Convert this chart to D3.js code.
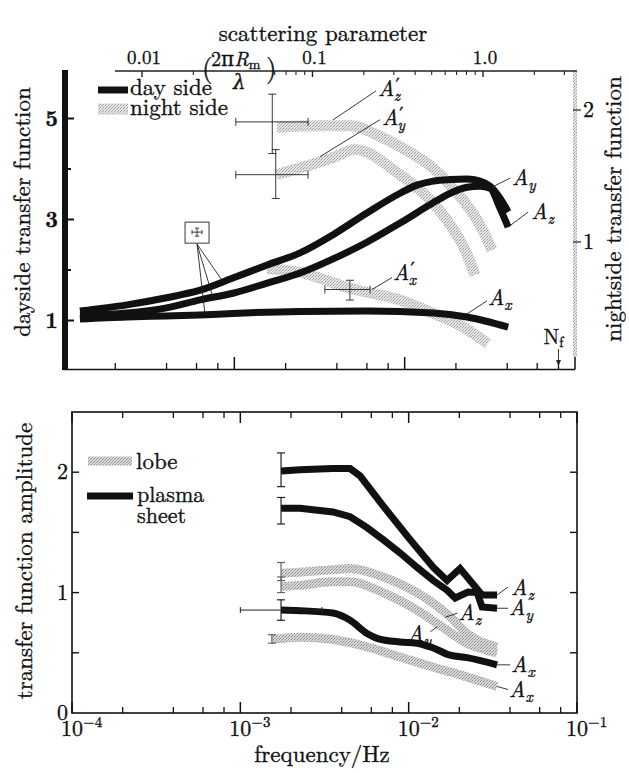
<!DOCTYPE html>
<html><head><meta charset="utf-8">
<script src="https://cdn.jsdelivr.net/npm/d3@7"></script>
</head><body style="margin:0;background:#fff">
<svg id="chart" width="629" height="773" style="display:block"></svg>
<script>
// ---------- top panel: dayside (left axis) and nightside (right axis) transfer functions, [frequency Hz, value]
const dayAy = [[1.24e-4,1.19],[2.34e-4,1.31],[4.0e-4,1.45],[6.3e-4,1.60],[9.8e-4,1.84],[1.56e-3,2.10],[2.43e-3,2.34],[3.8e-3,2.70],[6.0e-3,3.13],[9.4e-3,3.52],[1.18e-2,3.68],[1.47e-2,3.76],[1.85e-2,3.79],[2.32e-2,3.80],[2.77e-2,3.76],[3.17e-2,3.66],[3.63e-2,3.42],[4.05e-2,3.15]];
const dayAz = [[1.24e-4,1.11],[2.34e-4,1.15],[4.0e-4,1.25],[6.3e-4,1.41],[9.8e-4,1.54],[1.56e-3,1.74],[2.43e-3,1.94],[3.8e-3,2.22],[6.0e-3,2.55],[9.4e-3,2.93],[1.47e-2,3.33],[1.85e-2,3.52],[2.32e-2,3.64],[2.77e-2,3.66],[3.17e-2,3.62],[3.63e-2,3.22],[4.05e-2,2.85]];
const dayAx = [[1.24e-4,1.03],[2.34e-4,1.07],[4.0e-4,1.09],[6.3e-4,1.11],[9.8e-4,1.14],[2.43e-3,1.18],[6.0e-3,1.19],[1.47e-2,1.15],[2.32e-2,1.07],[4.05e-2,0.87]];
const nightAz = [[1.78e-3,1.87],[3.18e-3,1.88],[4.77e-3,1.88],[7.46e-3,1.79],[1.07e-2,1.68],[1.47e-2,1.56],[1.85e-2,1.43],[2.32e-2,1.28],[2.77e-2,1.13],[3.26e-2,0.94]];
const nightAy = [[1.78e-3,1.51],[2.43e-3,1.56],[3.8e-3,1.64],[5.11e-3,1.70],[9.4e-3,1.51],[1.41e-2,1.32],[1.85e-2,1.13],[2.26e-2,0.94],[2.59e-2,0.75]];
const nightAx = [[1.56e-3,0.80],[2.43e-3,0.77],[4.77e-3,0.65],[9.4e-3,0.56],[1.47e-2,0.46],[2.11e-2,0.37],[3.08e-2,0.23]];
// nightside error crosses: [f, v, fLo, fHi, vLo, vHi]
const nightErr = [[1.67e-3,1.91,1.02e-3,2.71e-3,1.67,2.12],[1.75e-3,1.51,1.02e-3,2.71e-3,1.33,1.70],[4.77e-3,0.64,3.40e-3,6.26e-3,0.56,0.71]];
const dayTicks = [1,2,3,4,5];
const dayTickLabels = [1,3,5];
const nightTicks = [1,2];
const scatterMajor = [0.01,0.1,1];
const scatterMajorLabels = ["0.01","0.1","1.0"];
const scatterMinor = [0.02,0.06,0.07,0.08,0.09,0.2,0.3,0.4,0.5,0.6,0.7,0.8,0.9,2,3];
const freqMajor = [1e-4,1e-3,1e-2,1e-1];
const freqMinor = [2e-4,4e-4,6e-4,8e-4,2e-3,4e-3,6e-3,8e-3,2e-2,4e-2,6e-2,8e-2];
const nyquist = 8e-2;

// ---------- bottom panel: lobe and plasma sheet transfer function amplitudes
const psAz = [[1.745e-3,2.01],[2.26e-3,2.02],[3.55e-3,2.03],[4.49e-3,2.03],[5.14e-3,1.97],[7.05e-3,1.72],[1.02e-2,1.44],[1.40e-2,1.21],[1.69e-2,1.10],[2.02e-2,1.20],[2.73e-2,0.98],[3.35e-2,0.98]];
const psAy = [[1.745e-3,1.70],[2.26e-3,1.70],[3.55e-3,1.67],[4.49e-3,1.63],[5.66e-3,1.54],[7.05e-3,1.44],[8.89e-3,1.33],[1.12e-2,1.21],[1.40e-2,1.10],[1.69e-2,1.02],[1.89e-2,0.955],[2.25e-2,1.005],[2.55e-2,1.0],[2.73e-2,0.88],[3.35e-2,0.87]];
const psAx = [[1.745e-3,0.855],[2.26e-3,0.85],[3.55e-3,0.83],[4.49e-3,0.77],[5.66e-3,0.66],[6.49e-3,0.62],[8.89e-3,0.59],[1.12e-2,0.58],[1.40e-2,0.54],[1.76e-2,0.48],[2.22e-2,0.46],[3.35e-2,0.40]];
const lobeAz = [[1.745e-3,1.16],[2.26e-3,1.17],[3.55e-3,1.19],[4.49e-3,1.20],[7.05e-3,1.13],[1.12e-2,1.0],[1.76e-2,0.80],[2.22e-2,0.66],[3.35e-2,0.55]];
const lobeAy = [[1.745e-3,1.05],[2.26e-3,1.06],[3.55e-3,1.09],[4.49e-3,1.09],[7.05e-3,1.0],[1.12e-2,0.855],[1.60e-2,0.71],[2.22e-2,0.58],[3.35e-2,0.50]];
const lobeAx = [[1.54e-3,0.61],[2.26e-3,0.63],[3.55e-3,0.61],[5.66e-3,0.55],[8.89e-3,0.465],[1.40e-2,0.38],[2.22e-2,0.30],[3.35e-2,0.22]];
// vertical error bars: [f, lo, hi]
const psErr = [[1.745e-3,1.88,2.16],[1.745e-3,1.57,1.79],[1.745e-3,0.77,0.94]];
const psAxFreqErr = [1.0e-3,3.05e-3];
const lobeErr = [[1.745e-3,1.10,1.25],[1.745e-3,1.00,1.13],[1.54e-3,0.58,0.65]];
const ampTicks = [0.5,1,1.5,2];
const ampTickLabels = [0,1,2];
const freqLabelExp = ["−4","−3","−2","−1"];

const FONT = '"Latin Modern Roman","DejaVu Serif","Liberation Serif",serif';
const svg = d3.select("#chart").attr("font-family",FONT);
const defs = svg.append("defs");
function stipple(id, bg, dot1, dot2){
  const p = defs.append("pattern").attr("id",id).attr("width",3).attr("height",3).attr("patternUnits","userSpaceOnUse");
  p.append("rect").attr("width",3).attr("height",3).attr("fill",bg);
  p.append("rect").attr("x",0).attr("y",0).attr("width",1).attr("height",1).attr("fill",dot1);
  p.append("rect").attr("x",2).attr("y",1).attr("width",1).attr("height",1).attr("fill",dot2);
  p.append("rect").attr("x",1).attr("y",2).attr("width",1).attr("height",1).attr("fill",dot1);
}
stipple("stipTop","#e6e6e6","#a0a0a0","#bdbdbd");
stipple("stipBot","#d8d8d8","#909090","#acacac");

// ===================== TOP PANEL =====================
const xT = d3.scaleLog().domain([1e-4,1e-1]).range([64,575]);
const yD = d3.scaleLinear().domain([0,6]).range([371,68]);
const yN = d3.scaleLinear().domain([0,2.3]).range([374,70.4]);
const xS = d3.scaleLog().domain([0.01,1]).range([142,483]);
const gTop = svg.append("g");

const smooth = d3.curveMonotoneX;
function lineGen(xs, ys, curve){ return d3.line().x(d=>xs(d[0])).y(d=>ys(d[1])).curve(curve||smooth); }
function interp(series, f){
  for(let i=0;i<series.length-1;i++){
    const a=series[i], b=series[i+1];
    if(f>=a[0] && f<=b[0]){ const t=(Math.log(f)-Math.log(a[0]))/(Math.log(b[0])-Math.log(a[0])); return a[1]+t*(b[1]-a[1]); }
  }
  return series[series.length-1][1];
}
function txt(g, x, y, size, s){ return g.append("text").attr("x",x).attr("y",y).attr("font-size",size).text(s); }

// nightside bands
[nightAz,nightAy,nightAx].forEach(s=>{
  gTop.append("path").attr("d",lineGen(xT,yN)(s)).attr("fill","none").attr("stroke","url(#stipTop)").attr("stroke-width",11);
});
// nightside error crosses
const ec = gTop.append("g").attr("stroke","#222").attr("stroke-width",0.9);
nightErr.forEach(e=>{
  const cx=xT(e[0]), cy=yN(e[1]);
  ec.append("line").attr("x1",xT(e[2])).attr("x2",xT(e[3])).attr("y1",cy).attr("y2",cy);
  ec.append("line").attr("x1",xT(e[2])).attr("x2",xT(e[2])).attr("y1",cy-4).attr("y2",cy+4);
  ec.append("line").attr("x1",xT(e[3])).attr("x2",xT(e[3])).attr("y1",cy-4).attr("y2",cy+4);
  ec.append("line").attr("x1",cx).attr("x2",cx).attr("y1",yN(e[4])).attr("y2",yN(e[5]));
  ec.append("line").attr("x1",cx-4).attr("x2",cx+4).attr("y1",yN(e[4])).attr("y2",yN(e[4]));
  ec.append("line").attr("x1",cx-4).attr("x2",cx+4).attr("y1",yN(e[5])).attr("y2",yN(e[5]));
});
// dayside curves
[dayAx,dayAz,dayAy].forEach(s=>{
  gTop.append("path").attr("d",lineGen(xT,yD)(s)).attr("fill","none").attr("stroke","#111").attr("stroke-width",7).attr("stroke-linecap","butt");
});

// left thick axis
gTop.append("line").attr("x1",65).attr("x2",65).attr("y1",yD(5.96)).attr("y2",370).attr("stroke","#111").attr("stroke-width",6);
dayTicks.forEach(v=>{
  gTop.append("line").attr("x1",62).attr("x2",v%2?74:71).attr("y1",yD(v)).attr("y2",yD(v)).attr("stroke","#111").attr("stroke-width",2);
});
dayTickLabels.forEach(v=>{
  txt(gTop,58,yD(v)+7,22,v).attr("text-anchor","end").attr("font-weight","bold");
});
// bottom axis
gTop.append("line").attr("x1",63).attr("x2",xT(1e-1)).attr("y1",369.5).attr("y2",369.5).attr("stroke","#111").attr("stroke-width",1.5);
freqMajor.forEach(f=>{ gTop.append("line").attr("x1",xT(f)).attr("x2",xT(f)).attr("y1",369.5).attr("y2",357).attr("stroke","#111").attr("stroke-width",1.5); });
freqMinor.forEach(f=>{ gTop.append("line").attr("x1",xT(f)).attr("x2",xT(f)).attr("y1",369.5).attr("y2",363).attr("stroke","#111").attr("stroke-width",1.3); });
// right nightside axis (grey)
gTop.append("line").attr("x1",xT(1e-1)).attr("x2",xT(1e-1)).attr("y1",yN(2.3)).attr("y2",357).attr("stroke","url(#stipTop)").attr("stroke-width",4);
nightTicks.forEach(v=>{
  gTop.append("line").attr("x1",xT(1e-1)-2).attr("x2",xT(1e-1)+6).attr("y1",yN(v)).attr("y2",yN(v)).attr("stroke","#333").attr("stroke-width",1.3);
  txt(gTop,583,yN(v)+7,22,v);
});
// scattering parameter axis
gTop.append("line").attr("x1",115).attr("x2",577).attr("y1",71).attr("y2",71).attr("stroke","#222").attr("stroke-width",1.3);
scatterMajor.forEach((s,i)=>{
  gTop.append("line").attr("x1",xS(s)).attr("x2",xS(s)).attr("y1",71).attr("y2",77).attr("stroke","#222").attr("stroke-width",1.4);
  txt(gTop,xS(s)+2,64,19,scatterMajorLabels[i]).attr("text-anchor","middle");
});
scatterMinor.forEach(s=>{
  gTop.append("line").attr("x1",xS(s)).attr("x2",xS(s)).attr("y1",71).attr("y2",75).attr("stroke","#222").attr("stroke-width",1.1);
});
txt(gTop,323,41,23,"scattering parameter").attr("text-anchor","middle");
// (2πR_m / λ) with the axis line as its fraction bar
txt(gTop,202,77,27,"(");
const frac = txt(gTop,211,66,20,"");
frac.append("tspan").text("2π");
frac.append("tspan").attr("font-style","italic").text("R");
frac.append("tspan").attr("dy",3).attr("font-size",14).text("m");
txt(gTop,233,89,20,"λ").attr("font-style","italic");
txt(gTop,266,77,27,")");

// axis titles
txt(gTop,0,0,23,"dayside transfer function").attr("transform","translate(30,212) rotate(-90)").attr("text-anchor","middle");
txt(gTop,0,0,23,"nightside transfer function").attr("transform","translate(621,209) rotate(-90)").attr("text-anchor","middle");

// legend
gTop.append("line").attr("x1",98).attr("x2",128).attr("y1",90).attr("y2",90).attr("stroke","#111").attr("stroke-width",7);
txt(gTop,130,95,23,"day side");
gTop.append("line").attr("x1",98).attr("x2",128).attr("y1",109).attr("y2",109).attr("stroke","url(#stipTop)").attr("stroke-width",11);
txt(gTop,130,115,23,"night side");

// component labels
function compLabel(g, x, y, sub, prime, size){
  const t = txt(g,x,y,size,"").attr("font-style","italic");
  t.append("tspan").text("A");
  if(prime){
    t.append("tspan").attr("dx",1).attr("dy",-4).attr("font-size",size*0.85).attr("font-style","normal").text("′");
    t.append("tspan").attr("dx",-6).attr("dy",9).attr("font-size",size*0.7).text(sub);
  } else {
    t.append("tspan").attr("dy",5).attr("font-size",size*0.7).text(sub);
  }
}
function leader(g, x1,y1,x2,y2){ g.append("line").attr("x1",x1).attr("y1",y1).attr("x2",x2).attr("y2",y2).attr("stroke","#222").attr("stroke-width",0.9); }

// [series, scale, anchor freq, anchor dy, leader end dx,dy, label dx,dy, subscript, prime]
const topNotes = [
  [nightAz, yN, 3.8e-3, -6, 43,-29, 45,-24, "z", true],
  [nightAy, yN, 3.18e-3, -5, 60,-37, 62,-32, "y", true],
  [dayAy, yD, 3.17e-2, 2, 20,-10, 22,-3, "y", false],
  [dayAz, yD, 4.05e-2, 0, 20,-15, 23,-8, "z", false],
  [dayAx, yD, 2.32e-2, -3, 20,-13, 21,-9, "x", false]
];
topNotes.forEach(n=>{
  const ax=xT(n[2]), ay=n[1](interp(n[0],n[2]))+n[3];
  leader(gTop, ax, ay, ax+n[4], ay+n[5]);
  compLabel(gTop, ax+n[6], ay+n[7], n[8], n[9], 22);
});
// A'x label hangs off the right end of its error cross
{
  const e = nightErr[2];
  const ax = xT(e[3])+2, ay = yN(e[1]);
  leader(gTop, ax, ay, ax+20, ay-12);
  compLabel(gTop, ax+21, ay-10, "x", true, 22);
}
// dayside error-size box with leaders to the three curves
{
  const bx = xT(6.04e-4), by = yD(2.75);
  gTop.append("rect").attr("x",bx-12).attr("y",by-10).attr("width",24).attr("height",21).attr("fill","#fff").attr("stroke","#222").attr("stroke-width",0.9);
  leader(gTop,bx-5,by,bx+5,by); leader(gTop,bx,by-4,bx,by+4);
  leader(gTop,bx-5,by-2,bx-5,by+2); leader(gTop,bx+5,by-2,bx+5,by+2);
  leader(gTop,bx-2,by-4,bx+2,by-4); leader(gTop,bx-2,by+4,bx+2,by+4);
  [[dayAy,8.58e-4],[dayAz,7.49e-4],[dayAx,6.73e-4]].forEach(p=>{
    leader(gTop,bx,by+12,xT(p[1]),yD(interp(p[0],p[1])));
  });
}
// Nyquist marker
{
  const nx = xT(nyquist);
  const t = txt(gTop,nx-15,344,21,"");
  t.append("tspan").text("N");
  t.append("tspan").attr("dy",3).attr("font-size",14).text("f");
  leader(gTop,nx,349,nx,365);
  gTop.append("path").attr("d",`M${nx-2.5},${360}L${nx},${366}L${nx+2.5},${360}Z`).attr("fill","#222");
}

// ===================== BOTTOM PANEL =====================
const xB = d3.scaleLog().domain([1e-4,1e-1]).range([72,577]);
const yA = d3.scaleLinear().domain([0,2.5]).range([713,412]);
const gBot = svg.append("g");

[lobeAz,lobeAy,lobeAx].forEach(s=>{
  gBot.append("path").attr("d",lineGen(xB,yA)(s)).attr("fill","none").attr("stroke","url(#stipBot)").attr("stroke-width",9);
});
gBot.append("path").attr("d",lineGen(xB,yA,d3.curveLinear)(psAz)).attr("fill","none").attr("stroke","#111").attr("stroke-width",7).attr("stroke-linejoin","miter");
gBot.append("path").attr("d",lineGen(xB,yA,d3.curveLinear)(psAy)).attr("fill","none").attr("stroke","#111").attr("stroke-width",7).attr("stroke-linejoin","miter");
gBot.append("path").attr("d",lineGen(xB,yA)(psAx)).attr("fill","none").attr("stroke","#111").attr("stroke-width",7);

function vErr(g, e, color){
  const x=xB(e[0]);
  g.append("line").attr("x1",x).attr("x2",x).attr("y1",yA(e[1])).attr("y2",yA(e[2])).attr("stroke",color).attr("stroke-width",1.2);
  [e[1],e[2]].forEach(v=>g.append("line").attr("x1",x-4).attr("x2",x+4).attr("y1",yA(v)).attr("y2",yA(v)).attr("stroke",color).attr("stroke-width",1.2));
}
psErr.forEach(e=>vErr(gBot,e,"#222"));
lobeErr.forEach(e=>vErr(gBot,e,"#666"));
{
  const y = yA(psErr[2][1]/2+psErr[2][2]/2);
  gBot.append("line").attr("x1",xB(psAxFreqErr[0])).attr("x2",xB(psAxFreqErr[1])).attr("y1",y).attr("y2",y).attr("stroke","#222").attr("stroke-width",1);
  psAxFreqErr.forEach(f=>gBot.append("line").attr("x1",xB(f)).attr("x2",xB(f)).attr("y1",y-3).attr("y2",y+3).attr("stroke","#222").attr("stroke-width",1));
}

// frame
gBot.append("rect").attr("x",72).attr("y",412).attr("width",505).attr("height",301).attr("fill","none").attr("stroke","#111").attr("stroke-width",1.6);
freqMajor.forEach(f=>{
  gBot.append("line").attr("x1",xB(f)).attr("x2",xB(f)).attr("y1",713).attr("y2",702).attr("stroke","#111").attr("stroke-width",1.5);
  gBot.append("line").attr("x1",xB(f)).attr("x2",xB(f)).attr("y1",412).attr("y2",423).attr("stroke","#111").attr("stroke-width",1.5);
});
freqMinor.forEach(f=>{
  gBot.append("line").attr("x1",xB(f)).attr("x2",xB(f)).attr("y1",713).attr("y2",707).attr("stroke","#111").attr("stroke-width",1.3);
  gBot.append("line").attr("x1",xB(f)).attr("x2",xB(f)).attr("y1",412).attr("y2",418).attr("stroke","#111").attr("stroke-width",1.3);
});
ampTicks.forEach(v=>{
  gBot.append("line").attr("x1",72).attr("x2",79).attr("y1",yA(v)).attr("y2",yA(v)).attr("stroke","#111").attr("stroke-width",1.4);
  gBot.append("line").attr("x1",577).attr("x2",570).attr("y1",yA(v)).attr("y2",yA(v)).attr("stroke","#111").attr("stroke-width",1.4);
});
ampTickLabels.forEach(v=>{
  txt(gBot,68,yA(v)+7,22,v).attr("text-anchor","end");
});
freqMajor.forEach((f,i)=>{
  const t = txt(gBot,xB(f)-11,736,22,"");
  t.append("tspan").text("10");
  t.append("tspan").attr("dy",-9).attr("font-size",15).text(freqLabelExp[i]);
});
txt(gBot,322,762,23,"frequency/Hz").attr("text-anchor","middle");
txt(gBot,0,0,23,"transfer function amplitude").attr("transform","translate(32,561) rotate(-90)").attr("text-anchor","middle");

// legend
gBot.append("line").attr("x1",88).attr("x2",132).attr("y1",461).attr("y2",461).attr("stroke","url(#stipBot)").attr("stroke-width",9);
txt(gBot,136,469,23,"lobe");
gBot.append("line").attr("x1",87).attr("x2",133).attr("y1",496).attr("y2",496).attr("stroke","#111").attr("stroke-width",7);
txt(gBot,137,502,22,"plasma");
txt(gBot,137,523,22,"sheet");

// component labels at the curve ends
const botNotes = [
  [psAz, 3.35e-2, 0, 11,-8, 14,0, "z"],
  [psAy, 3.35e-2, 0, 11,0, 12,7, "y"],
  [psAx, 3.35e-2, 0, 13,0, 14,7, "x"],
  [lobeAx, 3.35e-2, 0, 11,3, 12,10, "x"],
  [lobeAz, 1.65e-2, 4, 12,-4, 13,3, "z"],
  [lobeAy, 1.48e-2, 3, -7,5, -30,14, "y"]
];
botNotes.forEach(n=>{
  const ax=xB(n[1]), ay=yA(interp(n[0],n[1]))+n[2];
  leader(gBot, ax, ay, ax+n[3], ay+n[4]);
  compLabel(gBot, ax+n[5], ay+n[6], n[7], false, 22);
});

// heavier print weight for all lettering
svg.selectAll("text").attr("fill","#111").attr("stroke","#111").attr("stroke-width",0.35);
</script>
</body></html>
